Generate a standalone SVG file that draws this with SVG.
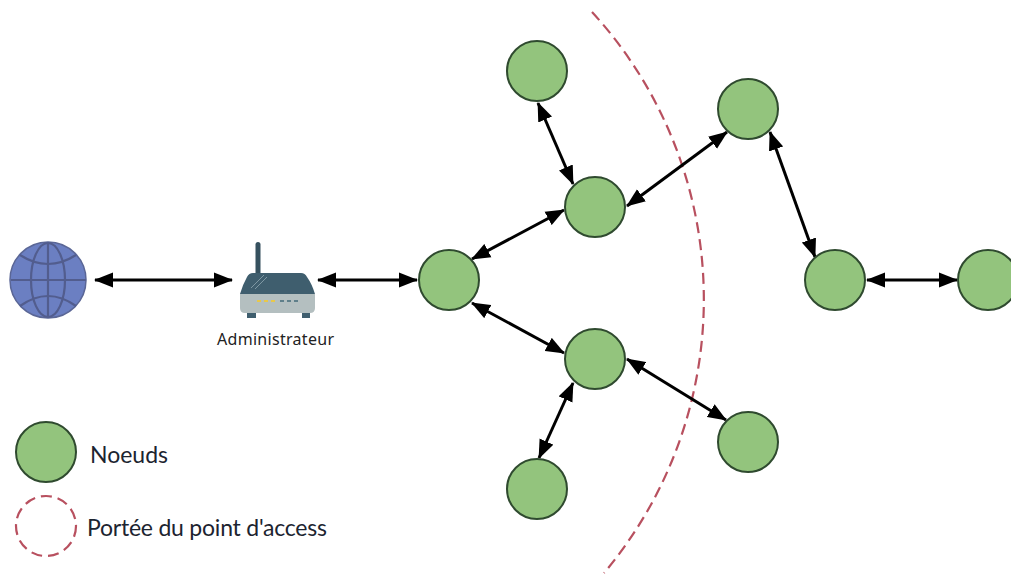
<svg xmlns="http://www.w3.org/2000/svg" width="1011" height="575" viewBox="0 0 1011 575">
<style>
.node{fill:#93c47d;stroke:#2f4a2f;stroke-width:2}
.range{fill:none;stroke:#b8505f;stroke-width:2.2;stroke-dasharray:11 6}
.link{fill:none;stroke:#000;stroke-width:3;marker-start:url(#arrow);marker-end:url(#arrow)}
.grid{fill:none;stroke:#525d8e;stroke-width:2.2}
.leg{font-family:"Lato","Liberation Sans",sans-serif;font-size:23px;fill:#1c2430}
.adm{font-family:"Noto Sans","Liberation Sans",sans-serif;font-size:16px;fill:#222}
</style>
<defs>
<marker id="arrow" markerUnits="userSpaceOnUse" markerWidth="19" markerHeight="16" refX="18" refY="8" orient="auto-start-reverse">
<path d="M0 0.500L19 8L0 15.500Z" fill="#000"/>
</marker>
</defs>
<rect width="1011" height="575" fill="#fff"/>
<path id="range-arc" class="range" d="M592 12A425 425 0 0 1 604 573"/>
<g id="connectors">
<path class="link" d="M95 280H232"/>
<path class="link" d="M318 280H417"/>
<path class="link" d="M472 259L564 210"/>
<path class="link" d="M472 303L564 353"/>
<path class="link" d="M538 103L573 184"/>
<path class="link" d="M627 206L727 132"/>
<path class="link" d="M770 132L815 257"/>
<path class="link" d="M867 280H957"/>
<path class="link" d="M627 359L726 420"/>
<path class="link" d="M573 383L539 458"/>
</g>
<g id="globe">
<circle cx="48" cy="280" r="38" fill="#6b7fc2" stroke="#5a6696" stroke-width="1.5"/>
<path class="grid" d="M11 280H86M48 243V317"/>
<ellipse class="grid" cx="48" cy="280" rx="17" ry="37"/>
<path class="grid" d="M20 255Q48 273 76 255M20 306Q48 286 76 306"/>
</g>
<g id="router">
<rect x="255.500" y="242" width="5" height="34" rx="2.500" fill="#36515f"/>
<path d="M240 294Q243 284 247 277Q249 273 253 273H301Q305 273 307 277Q312 284 315 294Z" fill="#3f5e6e"/>
<path d="M251 288L264 275M255 289L267 277" stroke="#7f98a3" stroke-width="1" fill="none"/>
<path d="M240 294H315V308Q315 313 310 313H245Q240 313 240 308Z" fill="#b4bfc0"/>
<rect x="247" y="313" width="9" height="5" fill="#3f5e6e"/>
<rect x="302" y="313" width="8" height="5" fill="#3f5e6e"/>
<path d="M257 301H277" stroke="#e8c84a" stroke-width="2" stroke-dasharray="4 3"/>
<path d="M280 301H300" stroke="#5f7f8a" stroke-width="2" stroke-dasharray="4 3"/>
<text class="adm" x="217" y="345" textLength="117" lengthAdjust="spacing">Administrateur</text>
</g>
<g id="node-1"><circle class="node" cx="537" cy="71" r="30"/></g>
<g id="node-2"><circle class="node" cx="595" cy="207" r="30"/></g>
<g id="node-3"><circle class="node" cx="748" cy="109" r="30"/></g>
<g id="node-4"><circle class="node" cx="835" cy="280" r="30"/></g>
<g id="node-5"><circle class="node" cx="988" cy="280" r="30"/></g>
<g id="node-6"><circle class="node" cx="449" cy="280" r="30"/></g>
<g id="node-7"><circle class="node" cx="595" cy="359" r="30"/></g>
<g id="node-8"><circle class="node" cx="748" cy="442" r="30"/></g>
<g id="node-9"><circle class="node" cx="537" cy="489" r="30"/></g>
<g id="legend-node"><circle class="node" cx="46" cy="452" r="30"/><text class="leg" x="90" y="463" textLength="78">Noeuds</text></g>
<g id="legend-range"><circle class="range" cx="46" cy="526" r="30"/><text class="leg" x="87" y="536" textLength="240">Portée du point d'access</text></g>
</svg>
